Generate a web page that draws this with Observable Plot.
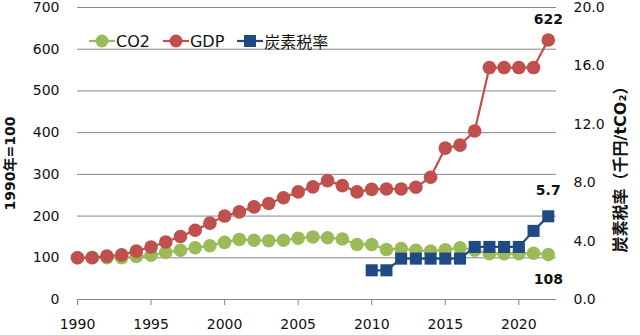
<!DOCTYPE html>
<html>
<head>
<meta charset="utf-8">
<script src="https://cdn.jsdelivr.net/npm/d3@7"></script>
<script src="https://cdn.jsdelivr.net/npm/@observablehq/plot@0.6"></script>
<style>
  html, body { margin: 0; padding: 0; background: #fff; }
  #wrap { position: relative; width: 640px; height: 335px; font-family: "DejaVu Sans", "Noto Sans CJK JP", sans-serif; }
  #wrap > svg { position: absolute; left: 0; top: 0; }
  #legend { position: absolute; left: 89px; top: 29px; display: flex; align-items: center; font-size: 16px; color: #111; }
  #legend .item { display: flex; align-items: center; margin-right: 13px; }
  #legend svg { display: block; margin-right: 1px; }
</style>
</head>
<body>
<div id="wrap"><div id="legend"></div></div>
<script>
// ---- data ----
const years = [1990,1991,1992,1993,1994,1995,1996,1997,1998,1999,2000,2001,2002,2003,2004,2005,2006,2007,2008,2009,2010,2011,2012,2013,2014,2015,2016,2017,2018,2019,2020,2021,2022];
const co2 = [100,101,100,100,103,106,113,118,124,129,137,144,142,141,142,147,150,148,145,132,132,120,122,118,116,119,124,118,110,110,110,111,108];
const gdp = [100,100,104,107,116,126,138,151,166,183,200,210,222,230,244,258,270,285,273,258,264,265,265,269,293,363,370,404,556,556,556,556,622];
const taxYears = [2010,2011,2012,2013,2014,2015,2016,2017,2018,2019,2020,2021,2022];
const taxRate = [2.0,2.0,2.8,2.8,2.8,2.8,2.8,3.6,3.6,3.6,3.6,4.7,5.7];
const xTicks = [1990,1995,2000,2005,2010,2015,2020];
const leftTicks = [0,100,200,300,400,500,600,700];
const rightTicks = [0,4,8,12,16,20];
const leftTitle = "1990年=100";
const rightTitle = "炭素税率（千円/tCO₂）";
const seriesNames = ["CO2", "GDP", "炭素税率"];
const colors = ["#9BBB59", "#C0504D", "#1F4A84"];

// ---- build ----
const k = leftTicks[leftTicks.length - 1] / rightTicks[rightTicks.length - 1];
const co2Data = years.map((y, i) => ({year: y, v: co2[i]}));
const gdpData = years.map((y, i) => ({year: y, v: gdp[i]}));
const taxData = taxYears.map((y, i) => ({year: y, v: taxRate[i], s: taxRate[i] * k}));
const grid = "#868686";

const chart = Plot.plot({
  width: 640,
  height: 335,
  marginLeft: 77,
  marginRight: 84,
  marginTop: 7,
  marginBottom: 36,
  x: {domain: [1990, 2022.56]},
  y: {domain: [0, 700]},
  style: {fontFamily: '"DejaVu Sans", "Noto Sans CJK JP", sans-serif', fontSize: "14px", color: "#111", background: "#fff"},
  marks: [
    Plot.gridY(leftTicks.filter(d => d > 0), {stroke: grid, strokeOpacity: 1}),
    Plot.ruleY([0], {stroke: grid}),
    Plot.axisX(xTicks, {tickSize: 6, tickPadding: 14, tickFormat: d => String(d), stroke: grid, fill: "#111", label: null}),
    Plot.axisY(leftTicks, {anchor: "left", tickSize: 0, tickPadding: 18, label: null}),
    Plot.axisY(rightTicks.map(v => v * k), {anchor: "right", tickSize: 0, tickPadding: 17, tickFormat: d => (d / k).toFixed(1), label: null}),
    Plot.line(co2Data, {x: "year", y: "v", stroke: colors[0], strokeWidth: 2.2}),
    Plot.dot(co2Data, {x: "year", y: "v", fill: colors[0], r: 6.8}),
    Plot.line(gdpData, {x: "year", y: "v", stroke: colors[1], strokeWidth: 2.2}),
    Plot.dot(gdpData, {x: "year", y: "v", fill: colors[1], r: 6.8}),
    Plot.line(taxData, {x: "year", y: "s", stroke: colors[2], strokeWidth: 2.2}),
    Plot.dot(taxData, {x: "year", y: "s", fill: colors[2], symbol: "square", r: 6.8}),
    Plot.text(gdpData.slice(-1), {x: "year", y: "v", text: d => String(d.v), dy: -21, fontWeight: "bold", fontSize: 14}),
    Plot.text(taxData.slice(-1), {x: "year", y: "s", text: d => d.v.toFixed(1), dy: -26, fontWeight: "bold", fontSize: 14}),
    Plot.text(co2Data.slice(-1), {x: "year", y: "v", text: d => String(d.v), dy: 25, fontWeight: "bold", fontSize: 14}),
    Plot.text([leftTitle], {frameAnchor: "left", text: d => d, rotate: -90, textAnchor: "middle", lineAnchor: "middle", dx: -67, dy: 10, fontWeight: "bold", fontSize: 14}),
    Plot.text([rightTitle], {frameAnchor: "right", text: d => d, rotate: -90, textAnchor: "middle", lineAnchor: "middle", dx: 64, dy: 12, fontWeight: "bold", fontSize: 16})
  ]
});
const wrap = document.getElementById("wrap");
wrap.insertBefore(chart, wrap.firstChild);

// legend
const legend = document.getElementById("legend");
seriesNames.forEach((name, i) => {
  const item = document.createElement("div");
  item.className = "item";
  const marker = i === 2
    ? `<rect x="7" y="1" width="12" height="12" fill="${colors[i]}"/>`
    : `<circle cx="13" cy="7" r="6.5" fill="${colors[i]}"/>`;
  item.innerHTML = `<svg width="26" height="14"><line x1="0" x2="26" y1="7" y2="7" stroke="${colors[i]}" stroke-width="2.2"/>${marker}</svg><span>${name}</span>`;
  legend.appendChild(item);
});
</script>
</body>
</html>
